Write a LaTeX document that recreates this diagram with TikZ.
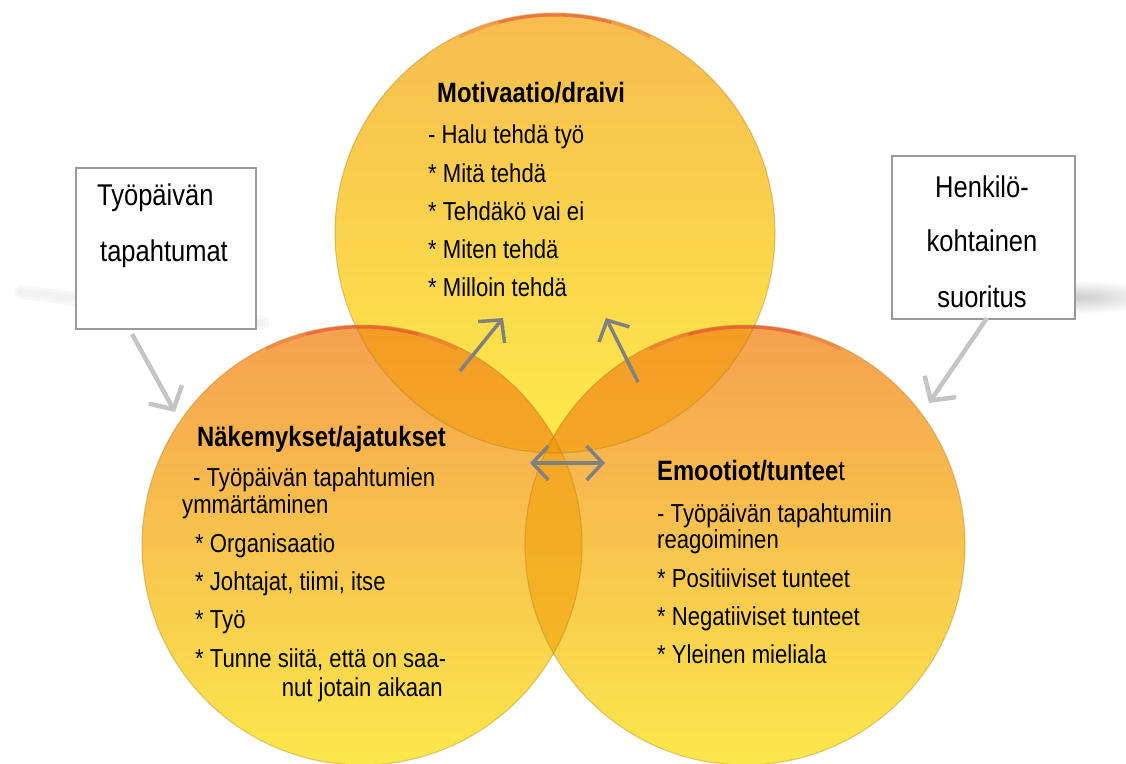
\documentclass[tikz,border=0pt]{standalone}
\usepackage{fontspec}
\setmainfont{Liberation Sans}[FakeStretch=0.85]
\usetikzlibrary{arrows.meta}
\definecolor{Ttop}{HTML}{F7BC4E}
\definecolor{Tmid}{HTML}{FBDA4B}
\definecolor{Tbot}{HTML}{FEEA4A}
\definecolor{Ltop}{HTML}{F6A04F}
\definecolor{Lmid}{HTML}{F8BB4E}
\definecolor{Lbot}{HTML}{FBE84B}
\definecolor{lenscol}{HTML}{F29A00}
\definecolor{edgecol}{HTML}{B07820}
\definecolor{rimcol}{HTML}{E0403A}
\definecolor{boxgray}{HTML}{9A9A9A}
\definecolor{arrowdark}{HTML}{808080}
\definecolor{arrowlight}{HTML}{C4C4C4}
\begin{document}
\begin{tikzpicture}[x=1pt,y=-1pt,
  txt/.style={anchor=base west,inner sep=0pt,font=\fontsize{26}{28}\selectfont},
  ttl/.style={anchor=base west,inner sep=0pt,font=\fontsize{28}{30}\selectfont\bfseries},
  boxtxt/.style={inner sep=0pt,font=\fontsize{30}{32}\selectfont},
  infobox/.style={draw=boxgray,line width=2pt,fill=white,inner sep=0pt},
  darrow/.style={draw=arrowdark,line width=3.5pt,-{Straight Barb[length=16pt,width=34pt]}},
  dbarrow/.style={draw=arrowdark,line width=3.5pt,{Straight Barb[length=16pt,width=34pt]}-{Straight Barb[length=16pt,width=34pt]}},
  larrow/.style={draw=arrowlight,line width=4.5pt,-{Straight Barb[length=17pt,width=38pt]}},
  lens/.style={fill=lenscol,fill opacity=0.52},
  edge/.style={draw=edgecol,draw opacity=0.35,line width=1.2pt},
  rimA/.style={draw=rimcol,draw opacity=0.25,line width=3pt},
  rimB/.style={draw=rimcol,draw opacity=0.4,line width=3pt}
]
\useasboundingbox (0,0) rectangle (1126,763);

% soft shadows behind the boxes
\draw[line width=14pt,line cap=round,color=black!3] (22,292) -- (262,323);
\draw[line width=7pt,line cap=round,color=black!5] (22,292) -- (262,323);
\shade[inner color=black!20,outer color=white] (1074,297) ellipse[x radius=90,y radius=17];

% circles
\coordinate (cT) at (555,233);
\coordinate (cL) at (362,545);
\coordinate (cR) at (745,545);
\shade[top color=Ttop,middle color=Tmid,bottom color=Tbot] (cT) circle[radius=220];
\shade[top color=Ltop,middle color=Lmid,bottom color=Lbot] (cL) circle[radius=220];
\shade[top color=Ltop,middle color=Lmid,bottom color=Lbot] (cR) circle[radius=220];

% overlaps
\begin{scope}
  \clip (cT) circle[radius=220];
  \fill[lens] (cL) circle[radius=220];
  \fill[lens] (cR) circle[radius=220];
\end{scope}
\begin{scope}
  \clip (cL) circle[radius=220];
  \fill[lens] (cR) circle[radius=220];
\end{scope}

% outlines
\draw[edge] (cT) circle[radius=220];
\draw[edge] (cL) circle[radius=220];
\draw[edge] (cR) circle[radius=220];

% red tint at the tops
\foreach \c in {cT,cL,cR}{
  \draw[rimA] (\c) ++(244:218) arc[start angle=244,end angle=296,radius=218];
  \draw[rimB] (\c) ++(255:218) arc[start angle=255,end angle=285,radius=218];
}

% boxes
\node[infobox,minimum width=180pt,minimum height=161pt,anchor=north west] (boxL) at (75,167) {};
\node[infobox,minimum width=183pt,minimum height=163pt,anchor=north west] (boxR) at (891,155) {};
\node[boxtxt,anchor=base west] (bl1) at (97,205) {Työpäivän};
\node[boxtxt,anchor=base west] (bl2) at (100,261) {tapahtumat};
\node[boxtxt,anchor=base] (br1) at (982,197) {Henkilö-};
\node[boxtxt,anchor=base] (br2) at (982,251) {kohtainen};
\node[boxtxt,anchor=base] (br3) at (982,307) {suoritus};

% top circle text
\node[ttl] (t0) at (437,102) {Motivaatio/draivi};
\node[txt] (t1) at (428,143) {- Halu tehdä työ};
\node[txt] (t2) at (428,182) {* Mitä tehdä};
\node[txt] (t3) at (428,220) {* Tehdäkö vai ei};
\node[txt] (t4) at (428,258) {* Miten tehdä};
\node[txt] (t5) at (428,296) {* Milloin tehdä};

% left circle text
\node[ttl] (l0) at (197,446) {Näkemykset/ajatukset};
\node[txt] (l1) at (193,486) {- Työpäivän tapahtumien};
\node[txt] (l2) at (182,513) {ymmärtäminen};
\node[txt] (l3) at (195,552) {* Organisaatio};
\node[txt] (l4) at (195,590) {* Johtajat, tiimi, itse};
\node[txt] (l5) at (195,628) {* Työ};
\node[txt] (l6) at (195,667) {* Tunne siitä, että on saa-};
\node[txt,anchor=base east] (l7) at (443,696) {nut jotain aikaan};

% right circle text
\node[ttl] (r0) at (657,480) {Emootiot/tuntee{\mdseries t}};
\node[txt] (r1) at (657,522) {- Työpäivän tapahtumiin};
\node[txt] (r2) at (657,548) {reagoiminen};
\node[txt] (r3) at (657,587) {* Positiiviset tunteet};
\node[txt] (r4) at (657,625) {* Negatiiviset tunteet};
\node[txt] (r5) at (657,663) {* Yleinen mieliala};

% connectors
\coordinate (aL0) at (132,334);
\coordinate (aL1) at (175,412);
\coordinate (aR0) at (987,318);
\coordinate (aR1) at (929,403);
\coordinate (aT10) at (460,371);
\coordinate (aT11) at (503,318);
\coordinate (aT20) at (638,382);
\coordinate (aT21) at (606,318);
\coordinate (aM0) at (530,463);
\coordinate (aM1) at (605,463);
\draw[larrow] (aL0) -- (aL1);
\draw[larrow] (aR0) -- (aR1);
\draw[darrow] (aT10) -- (aT11);
\draw[darrow] (aT20) -- (aT21);
\draw[dbarrow] (aM0) -- (aM1);
\end{tikzpicture}
\end{document}
